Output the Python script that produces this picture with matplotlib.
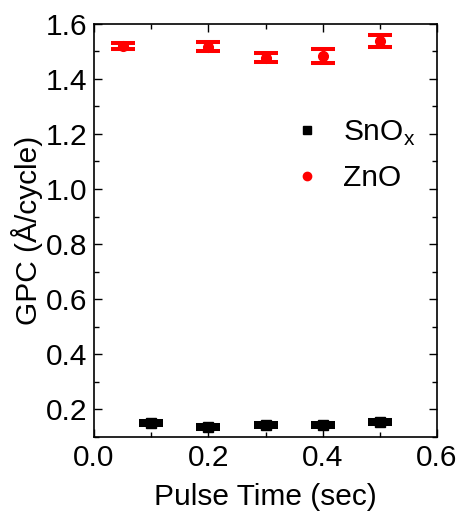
import matplotlib
matplotlib.use('Agg')
import matplotlib.pyplot as plt
from matplotlib.lines import Line2D
from matplotlib.ticker import MultipleLocator

plt.rcParams['font.family'] = ['Liberation Sans', 'DejaVu Sans']

# SnOx data
sn_x = [0.1, 0.2, 0.3, 0.4, 0.5]
sn_y = [0.149, 0.136, 0.143, 0.143, 0.154]
sn_err = [0.007, 0.008, 0.007, 0.007, 0.007]

# ZnO data
zn_x = [0.05, 0.2, 0.3, 0.4, 0.5]
zn_y = [1.52, 1.517, 1.477, 1.483, 1.538]
zn_err = [0.01, 0.017, 0.016, 0.026, 0.022]

fig = plt.figure(figsize=(4.63, 5.17), dpi=100)
ax = fig.add_axes([0.203, 0.155, 0.741, 0.799])

ax.errorbar(sn_x, sn_y, yerr=sn_err, fmt='s', color='black', ms=7,
            capsize=8.6, capthick=2.9, elinewidth=2.5)
ax.errorbar(zn_x, zn_y, yerr=zn_err, fmt='o', color='red', ms=7,
            capsize=8.6, capthick=2.9, elinewidth=2.5)

ax.set_xlim(0, 0.6)
ax.set_ylim(0.1, 1.6)
ax.xaxis.set_minor_locator(MultipleLocator(0.1))
ax.yaxis.set_minor_locator(MultipleLocator(0.1))
ax.set_xticks([0.0, 0.2, 0.4, 0.6])
ax.set_xticklabels(['0.0', '0.2', '0.4', '0.6'])
ax.set_yticks([0.2, 0.4, 0.6, 0.8, 1.0, 1.2, 1.4, 1.6])
ax.set_yticklabels(['0.2', '0.4', '0.6', '0.8', '1.0', '1.2', '1.4', '1.6'])

ax.tick_params(which='both', direction='in', top=True, right=True, labelsize=21.5)
ax.tick_params(which='major', length=6, width=1, pad=5)
ax.tick_params(which='minor', length=3.5, width=1)
for s in ax.spines.values():
    s.set_linewidth(1.2)

ax.set_xlabel('Pulse Time (sec)', fontsize=21.5, labelpad=8)
ax.set_ylabel('GPC (Å/cycle)', fontsize=21.5, labelpad=2)

handles = [Line2D([], [], ls='none', marker='s', color='black', ms=6),
           Line2D([], [], ls='none', marker='o', color='red', ms=6)]
ax.legend(handles, ['SnO$_\\mathregular{x}$', 'ZnO'], loc='upper left',
          bbox_to_anchor=(0.49, 0.835), frameon=False, fontsize=21.5,
          handlelength=1.2, handletextpad=0.6, labelspacing=0.55)

fig.savefig('out.png', dpi=100)
